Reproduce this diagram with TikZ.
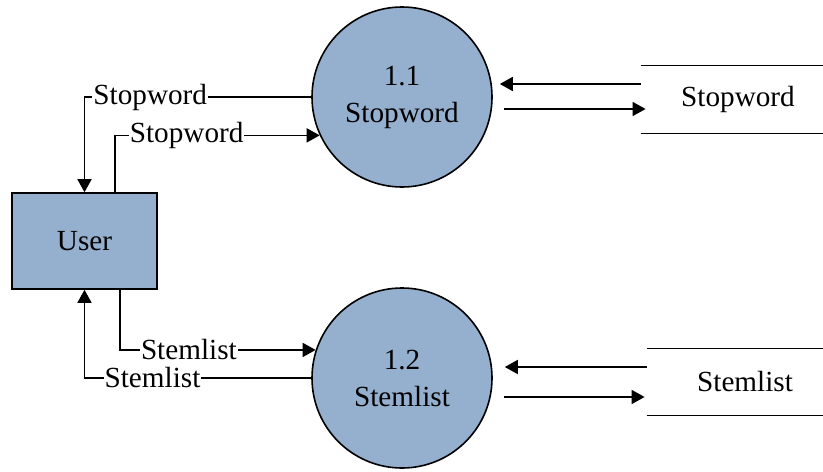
\documentclass[tikz,border=0pt]{standalone}
\usepackage{fontspec}
\setmainfont{Liberation Serif}
\usetikzlibrary{arrows.meta,positioning}
\definecolor{procblue}{RGB}{149,176,207}

\begin{document}
\begin{tikzpicture}
            [
            x=0.5pt,y=-0.5pt,
            every node/.style={font={\rmfamily\fontsize{14.6}{18.5}\selectfont}},
            process/.style={circle,draw,fill=procblue,line width=.8pt,
                minimum size=90pt,inner sep=0pt,align=center},
            entity/.style={rectangle,draw,fill=procblue,line width=.8pt,
                minimum width=72.5pt,minimum height=48pt},
            store/.style={rectangle,minimum height=33.5pt,inner sep=0pt},
            flow/.style={line width=.8pt,-{Triangle[length=6.5pt,width=7pt]}},
            flowlabel/.style={fill=white,inner sep=.5pt},
            ]
            \useasboundingbox (0,0) rectangle (823,471);

            % Processes
            \node[process] (stopproc) at (402,97) {1.1\\Stopword};
            \node[process] (stemproc) at (402,378) {1.2\\Stemlist};

            % External entity
            \node[entity] (user) at (84.5,241) {User};

            % Data stores
            \node[store,minimum width=97pt] (stopstore) at (738,99.5) {Stopword};
            \node[store,minimum width=98pt,minimum height=33pt] (stemstore) at (745,382) {Stemlist};
            \draw[line width=.8pt] (stopstore.north west) -- (stopstore.north east);
            \draw[line width=.8pt] (stopstore.south west) -- (stopstore.south east);
            \draw[line width=.8pt] (stemstore.north west) -- (stemstore.north east);
            \draw[line width=.8pt] (stemstore.south west) -- (stemstore.south east);

            % User <-> Stopword
            \draw[flow] (stopproc.west) -| (user.north)
                node[flowlabel,pos=.355] {Stopword};
            \draw[flow] ([xshift=15.25pt]user.north) |- (stopproc.205)
                node[flowlabel,pos=.675] {Stopword};

            % User <-> Stemlist
            \draw[flow] ([xshift=17.75pt]user.south) |- (stemproc.162)
                node[flowlabel,pos=.676] {Stemlist};
            \draw[flow] (stemproc.west) -| (user.south)
                node[flowlabel,pos=.35] {Stemlist};

            % Processes <-> stores
            \draw[flow] ([yshift=7.75pt]stopstore.west) -- ([xshift=3.5pt,yshift=6.5pt]stopproc.east);
            \draw[flow] ([xshift=5.5pt,yshift=-6pt]stopproc.east) -- ([xshift=2.5pt,yshift=-4.75pt]stopstore.west);
            \draw[flow] ([yshift=7.5pt]stemstore.west) -- ([xshift=6pt,yshift=5.5pt]stemproc.east);
            \draw[flow] ([xshift=5.5pt,yshift=-9.5pt]stemproc.east) -- ([xshift=-1pt,yshift=-7.5pt]stemstore.west);

        \end{tikzpicture}
\end{document}
